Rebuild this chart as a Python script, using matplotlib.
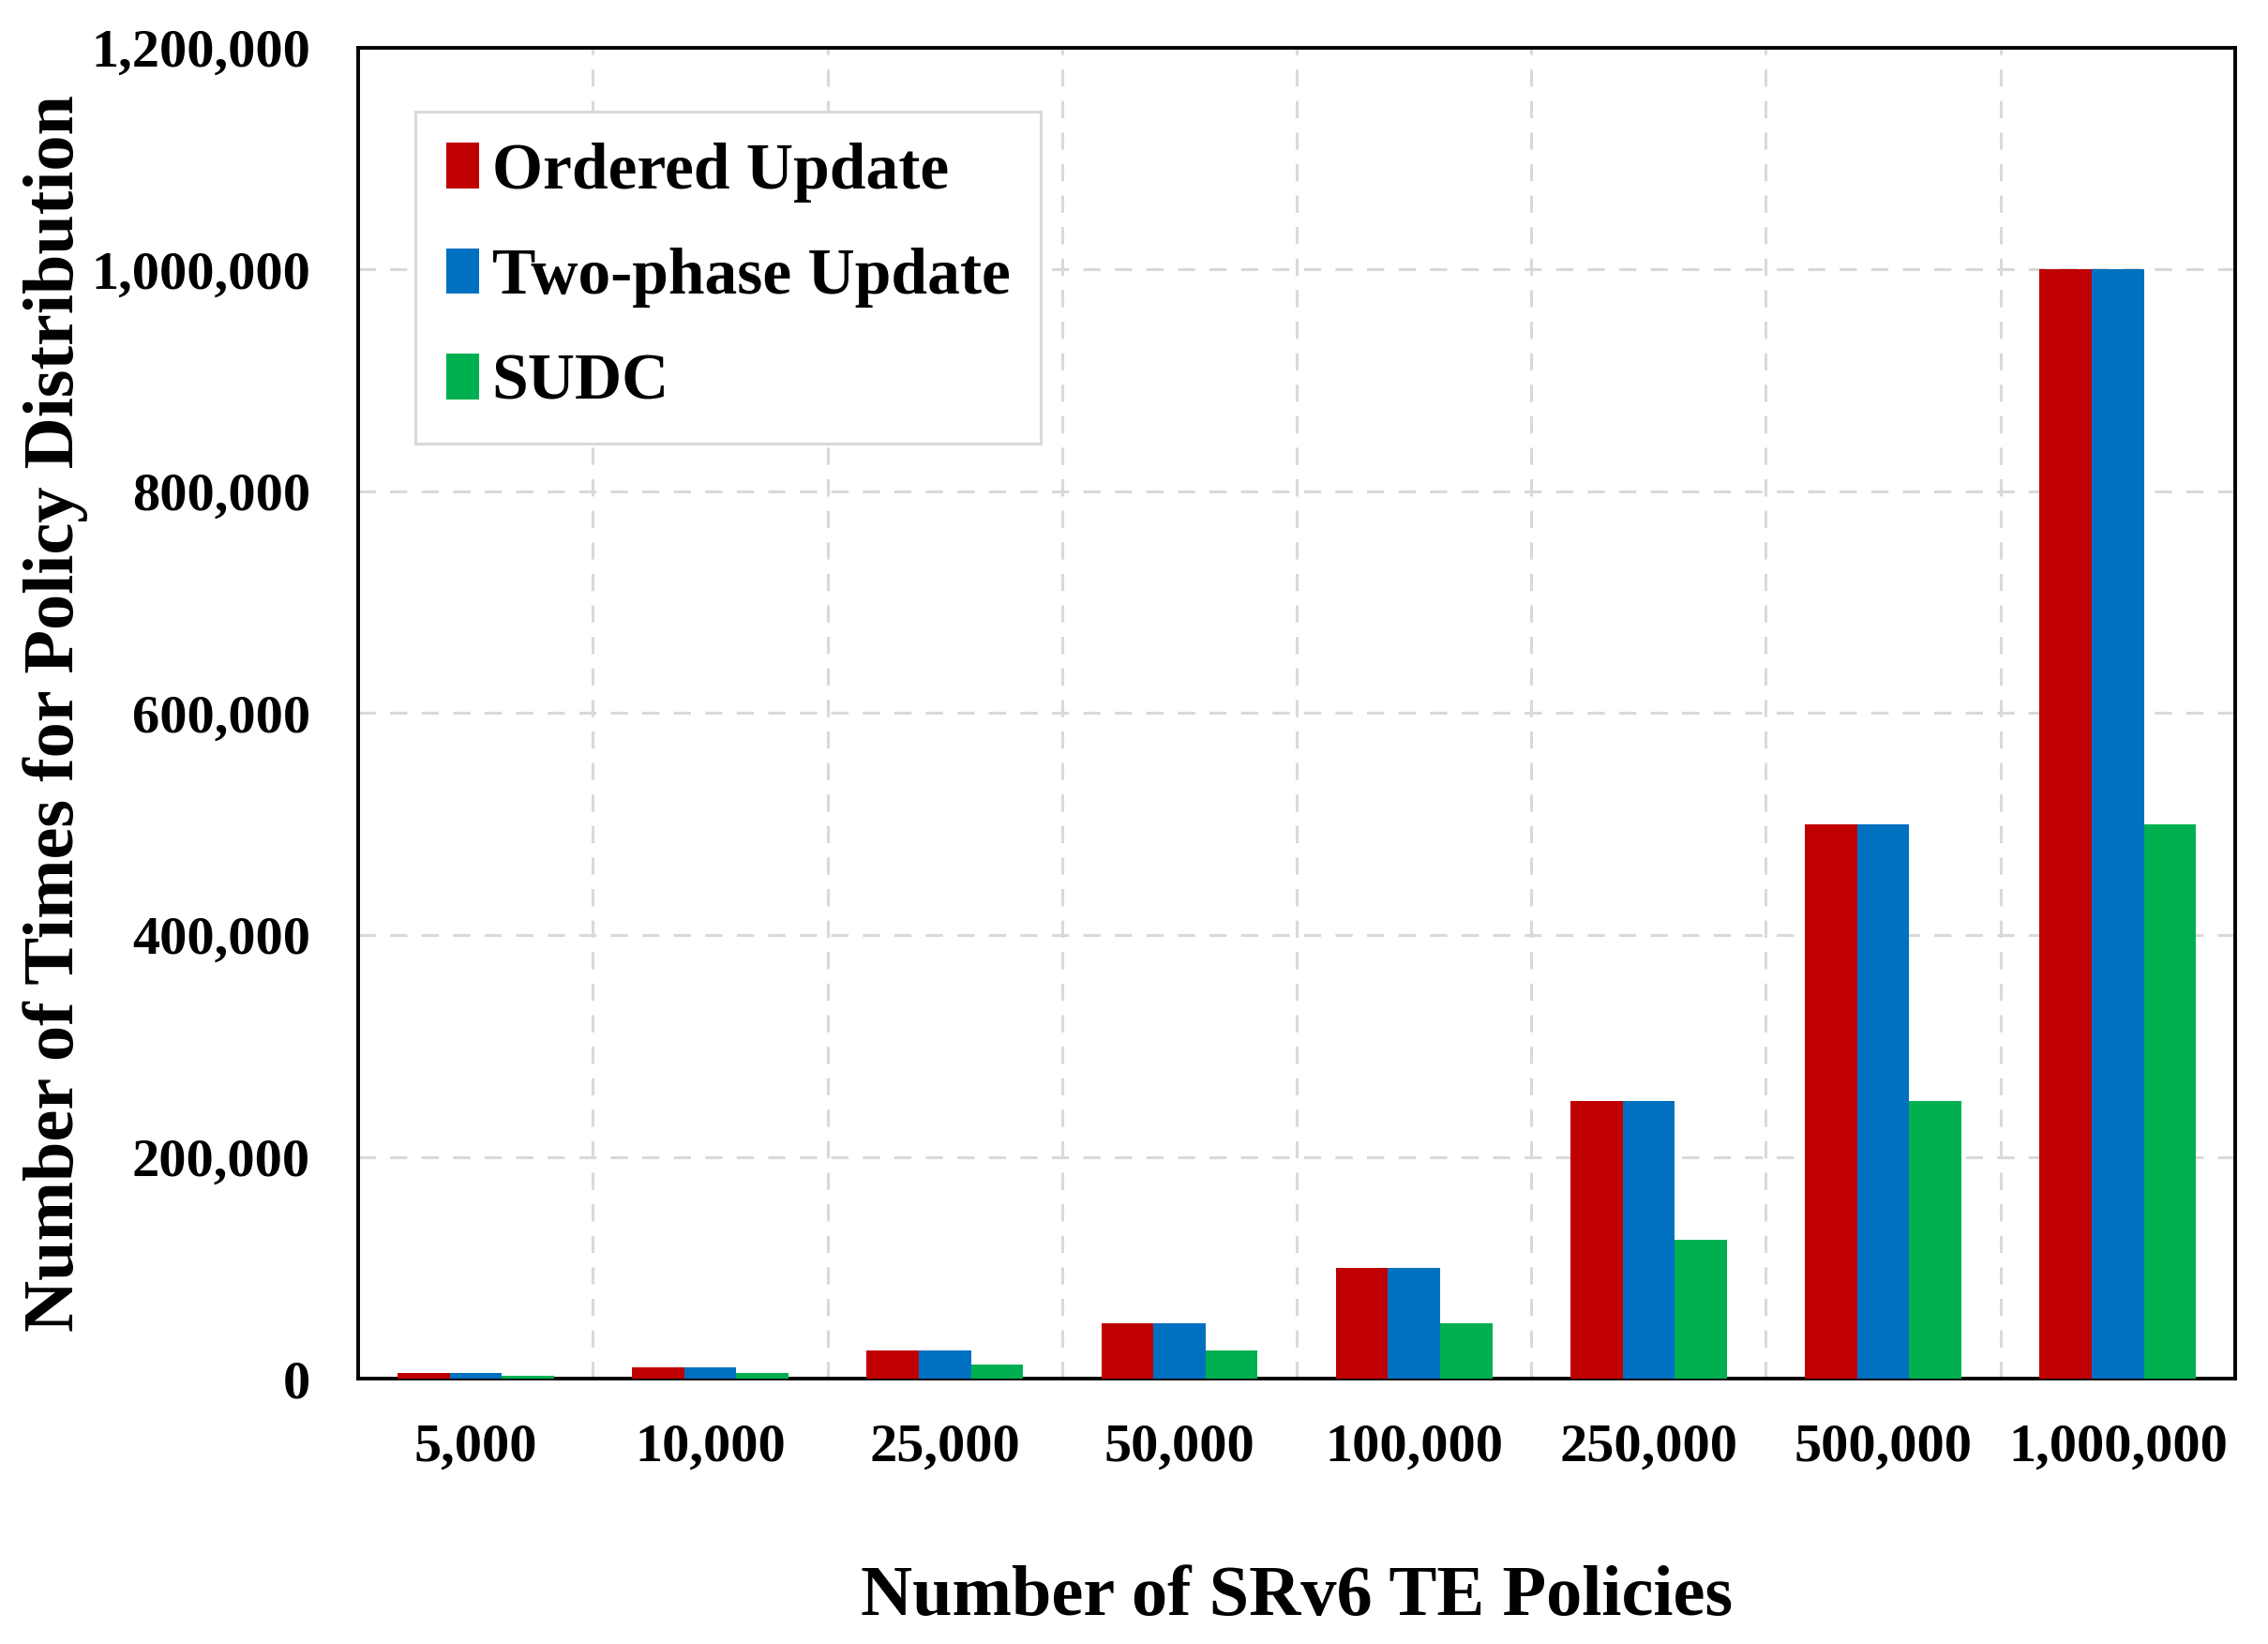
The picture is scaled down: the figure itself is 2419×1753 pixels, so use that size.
import matplotlib.pyplot as plt
import numpy as np

# data
categories = ['5,000', '10,000', '25,000', '50,000', '100,000', '250,000', '500,000', '1,000,000']
ordered_update = [5000, 10000, 25000, 50000, 100000, 250000, 500000, 1000000]
two_phase_update = [5000, 10000, 25000, 50000, 100000, 250000, 500000, 1000000]
sudc = [2500, 5000, 12500, 25000, 50000, 125000, 250000, 500000]
series_names = ['Ordered Update', 'Two-phase Update', 'SUDC']
colors = ['#C00000', '#0070C0', '#00B050']

plt.rcParams['font.family'] = ['Liberation Serif', 'DejaVu Serif']
plt.rcParams['font.weight'] = 'bold'

fig = plt.figure(figsize=(24.19, 17.53), dpi=100)
ax = fig.add_axes([0.158, 0.1614, 0.8275, 0.8096])

x = np.arange(len(categories))
w = 2.0 / 9
for i, (vals, name) in enumerate(zip([ordered_update, two_phase_update, sudc], series_names)):
    ax.bar(x + (i - 1) * w, vals, width=w, color=colors[i], label=name, zorder=3)

ax.set_xlim(-0.5, len(categories) - 0.5)
ax.set_ylim(0, 1200000)
ax.set_yticks(np.arange(0, 1200001, 200000))
ax.set_yticklabels([f'{v:,}' for v in range(0, 1200001, 200000)])
ax.set_xticks(x)
ax.set_xticklabels(categories)
ax.set_xticks(np.arange(0.5, len(categories) - 0.5, 1), minor=True)

grid_kw = dict(color='#d9d9d9', linewidth=2.2, linestyle=(0, (6, 5)), zorder=0)
ax.grid(axis='y', which='major', **grid_kw)
ax.grid(axis='x', which='minor', **grid_kw)
ax.set_axisbelow(True)

ax.tick_params(axis='both', which='both', length=0)
ax.tick_params(axis='x', labelsize=42, pad=34)
ax.tick_params(axis='y', labelsize=42, pad=37)
for lab in ax.get_xticklabels() + ax.get_yticklabels():
    lab.set_fontweight('bold')

for sp in ax.spines.values():
    sp.set_linewidth(2.8)
    sp.set_color('black')

ax.set_xlabel('Number of SRv6 TE Policies', fontsize=55, fontweight='bold', labelpad=72)
ax.set_ylabel('Number of Times for Policy Distribution', fontsize=55, fontweight='bold', labelpad=2)

leg = ax.legend(loc='upper left', bbox_to_anchor=(0.0305, 0.952), borderaxespad=0,
                fontsize=50, fancybox=False, edgecolor='#d9d9d9', framealpha=1,
                handlelength=0.5, handleheight=0.7, handletextpad=0.2,
                labelspacing=0.7, borderpad=0.47)
leg.get_frame().set_linewidth(2.2)
for t in leg.get_texts():
    t.set_fontweight('bold')

fig.savefig('out.png', dpi=100)
